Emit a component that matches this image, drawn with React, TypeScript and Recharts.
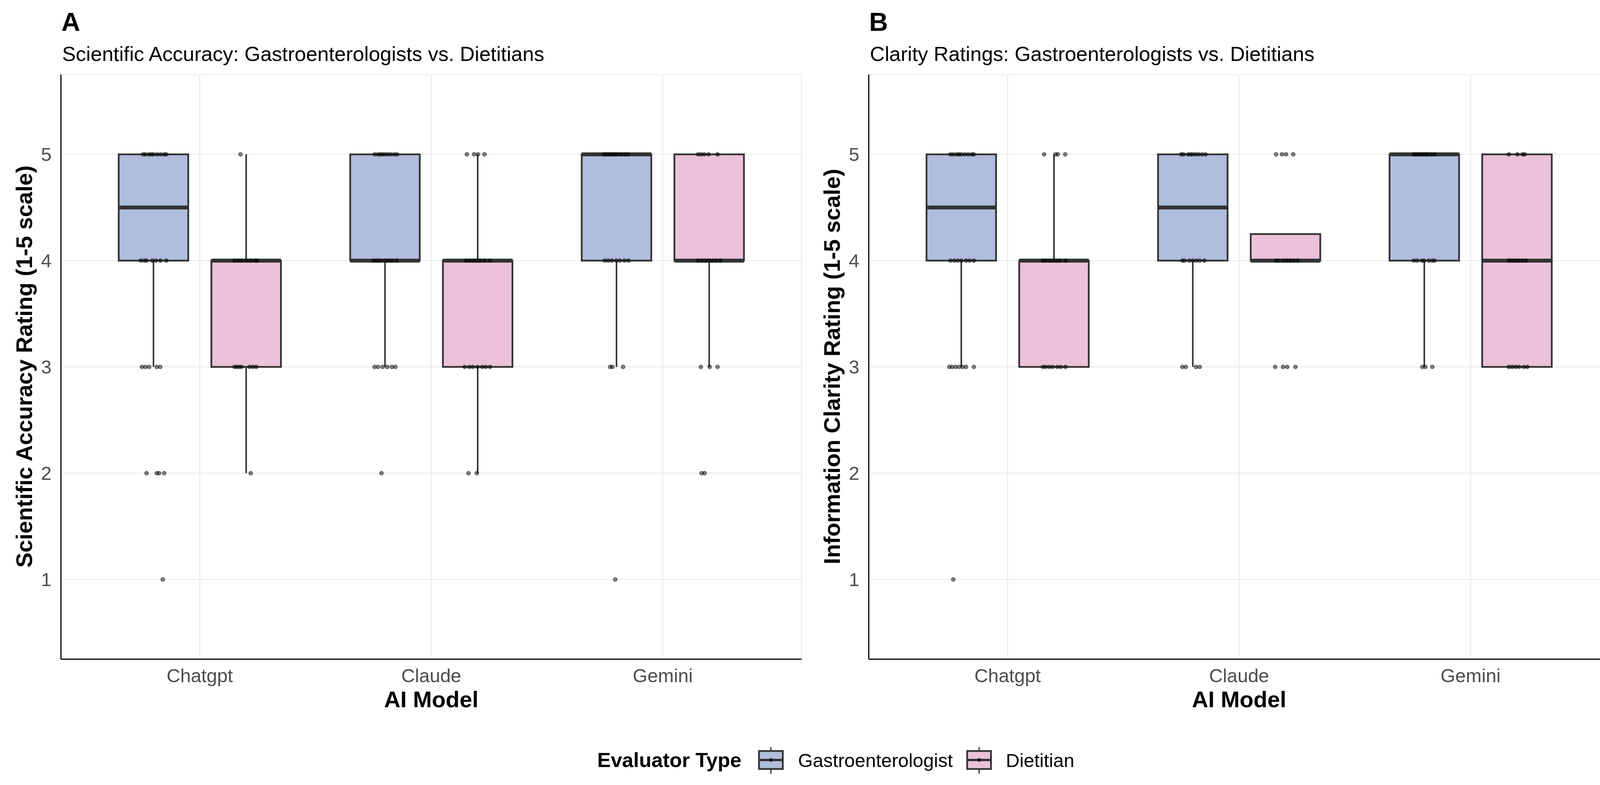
import React from "react";
import { ComposedChart, Bar, Scatter, XAxis, YAxis, CartesianGrid } from "recharts";

const models = ["Chatgpt", "Claude", "Gemini"];
const evaluators = ["Gastroenterologist", "Dietitian"];
const ratingTicks = [1, 2, 3, 4, 5];

// [lower whisker, Q1, median, Q3, upper whisker] for Chatgpt, Claude, Gemini
const accuracyGastroStats = [
  [3, 4, 4.5, 5, 5],
  [3, 4, 4, 5, 5],
  [3, 4, 5, 5, 5],
];
const accuracyDietStats = [
  [2, 3, 4, 4, 5],
  [2, 3, 4, 4, 5],
  [3, 4, 4, 5, 5],
];
const clarityGastroStats = [
  [3, 4, 4.5, 5, 5],
  [3, 4, 4.5, 5, 5],
  [3, 4, 5, 5, 5],
];
const clarityDietStats = [
  [3, 3, 4, 4, 5],
  [4, 4, 4, 4.25, 4.25],
  [3, 3, 4, 5, 5],
];

// individual ratings: rating -> jitter (share of a category) of each response
const accuracyGastroPoints = [
  { 5: [-0.045, -0.035, -0.02, -0.01, 0, 0.015, 0.03, 0.045, 0.055], 4: [-0.055, -0.04, -0.03, -0.005, 0.01, 0.03, 0.055], 3: [-0.05, -0.035, -0.019, 0.014, 0.029], 2: [-0.03, 0.014, 0.024, 0.046], 1: [0.04] },
  { 5: [-0.044, -0.03, -0.02, -0.01, 0, 0.012, 0.025, 0.04, 0.052], 4: [-0.049, -0.035, -0.02, 0, 0.015, 0.03, 0.05], 3: [-0.045, -0.03, -0.01, 0.01, 0.03, 0.045], 2: [-0.015] },
  { 5: [-0.055, -0.045, -0.035, -0.025, -0.015, -0.005, 0.005, 0.02, 0.035, 0.05], 4: [-0.05, -0.035, -0.02, 0, 0.015, 0.035, 0.052], 3: [-0.027, -0.017, 0.029], 1: [-0.005] },
];
const accuracyDietPoints = [
  { 5: [-0.024], 4: [-0.05, -0.035, -0.02, 0, 0.02, 0.04, 0.048], 3: [-0.05, -0.04, -0.03, -0.02, 0.015, 0.03, 0.044], 2: [0.02] },
  { 5: [-0.046, -0.015, 0.002, 0.03], 4: [-0.05, -0.035, -0.02, -0.005, 0.01, 0.03, 0.054], 3: [-0.055, -0.035, -0.02, 0, 0.02, 0.035, 0.054], 2: [-0.039, -0.003] },
  { 5: [-0.047, -0.034, -0.02, -0.002, 0.037], 4: [-0.047, -0.03, -0.015, 0, 0.015, 0.03, 0.049], 3: [-0.035, 0.003, 0.037], 2: [-0.032, -0.019] },
];
const clarityGastroPoints = [
  { 5: [-0.047, -0.035, -0.02, -0.01, 0, 0.015, 0.03, 0.045, 0.054], 4: [-0.047, -0.03, -0.015, 0, 0.02, 0.035, 0.054], 3: [-0.052, -0.04, -0.025, -0.01, 0.005, 0.02, 0.054], 1: [-0.035] },
  { 5: [-0.05, -0.04, -0.02, -0.01, 0, 0.012, 0.025, 0.04, 0.055], 4: [-0.045, -0.035, -0.015, 0, 0.015, 0.03, 0.05], 3: [-0.045, -0.03, 0.014, 0.03] },
  { 5: [-0.045, -0.035, -0.025, -0.015, -0.005, 0.005, 0.015, 0.03, 0.045], 4: [-0.045, -0.03, -0.01, 0, 0.02, 0.035, 0.045], 3: [-0.008, 0.005, 0.035] },
];
const clarityDietPoints = [
  { 5: [-0.042, 0.007, 0.017, 0.049], 4: [-0.047, -0.035, -0.02, -0.005, 0.01, 0.025, 0.05], 3: [-0.047, -0.035, -0.02, -0.005, 0.015, 0.03, 0.05] },
  { 5: [-0.04, -0.015, 0.003, 0.034], 4: [-0.04, -0.03, -0.01, 0.005, 0.02, 0.035, 0.052], 3: [-0.044, -0.01, 0.008, 0.044] },
  { 5: [-0.034, 0.003, 0.025, 0.034], 4: [-0.034, -0.02, -0.005, 0.01, 0.025, 0.04], 3: [-0.034, -0.02, -0.005, 0.01, 0.03, 0.045] },
];

const FONT = '"Liberation Sans", Arial, Helvetica, sans-serif';
const GASTRO_FILL = "#B0BDDB";
const DIET_FILL = "#EBC2D9";
const LINE = "#333333";
const DODGE = 0.2;

function buildRows(gStats: number[][], dStats: number[][]) {
  return models.map((model, i) => {
    const [gLo, gQ1, gMed, gQ3, gHi] = gStats[i];
    const [dLo, dQ1, dMed, dQ3, dHi] = dStats[i];
    return {
      model,
      gBase: gLo, gLow: gQ1 - gLo, gBox: gQ3 - gQ1, gHigh: gHi - gQ3, gQ1, gMed, gQ3,
      dBase: dLo, dLow: dQ1 - dLo, dBox: dQ3 - dQ1, dHigh: dHi - dQ3, dQ1, dMed, dQ3,
    };
  });
}

function buildPoints(pts: Record<number, number[]>[], dodge: number) {
  const out: { x: number; y: number }[] = [];
  pts.forEach((byRating, i) => {
    Object.entries(byRating).forEach(([rating, offsets]) => {
      offsets.forEach((off) => out.push({ x: i + 1 + dodge + off, y: Number(rating) }));
    });
  });
  return out;
}

const Empty = () => <g />;

const Whisker = (props: any) => {
  const { x, y, width, height } = props;
  if (!height) return <g />;
  const cx = x + width / 2;
  return <line x1={cx} x2={cx} y1={y} y2={y + height} stroke={LINE} strokeWidth={4} />;
};

const BoxShape = (props: any) => {
  const { x, y, width, height, payload, fill, pre } = props;
  const q1 = payload[pre + "Q1"];
  const q3 = payload[pre + "Q3"];
  const med = payload[pre + "Med"];
  const span = q3 - q1;
  const my = span > 0 ? y + (height * (q3 - med)) / span : y;
  return (
    <g>
      <rect x={x} y={y} width={width} height={height} fill={fill} stroke={LINE} strokeWidth={4.5} />
      <line x1={x} x2={x + width} y1={my} y2={my} stroke={LINE} strokeWidth={10} />
    </g>
  );
};

const Dot = (props: any) => (
  <circle cx={props.cx} cy={props.cy} r={5} fill="#000" fillOpacity={0.5} stroke="#000" strokeOpacity={0.5} strokeWidth={1.6} />
);

function Panel({ left, gStats, dStats, gPts, dPts }: any) {
  const rows = buildRows(gStats, dStats);
  const gastroDots = buildPoints(gPts, -DODGE);
  const dietDots = buildPoints(dPts, DODGE);
  return (
    <div style={{ position: "absolute", left, top: 0 }}>
      <ComposedChart
        width={2080}
        height={1800}
        data={rows}
        margin={{ top: 191, right: 28, bottom: 13, left: 0 }}
        barCategoryGap="15%"
        barGap="10%"
      >
        <CartesianGrid stroke="#EBEBEB" strokeWidth={2.5} />
        <XAxis
          dataKey="model"
          type="category"
          height={100}
          padding={{ left: 59, right: 59 }}
          tickLine={false}
          tickSize={0}
          tickMargin={25}
          interval={0}
          axisLine={{ stroke: "#000", strokeWidth: 3 }}
          tick={{ fontSize: 48.5, fill: "#4D4D4D", fontFamily: FONT }}
        />
        <XAxis xAxisId="num" dataKey="x" type="number" domain={[0.4, 3.6]} allowDataOverflow hide />
        <YAxis
          type="number"
          width={156}
          domain={[0.25, 5.75]}
          ticks={ratingTicks}
          allowDataOverflow
          tickLine={false}
          tickSize={0}
          tickMargin={24}
          axisLine={{ stroke: "#000", strokeWidth: 3 }}
          tick={{ fontSize: 48.5, fill: "#4D4D4D", fontFamily: FONT }}
        />
        <Bar dataKey="gBase" stackId="g" shape={Empty} isAnimationActive={false} />
        <Bar dataKey="gLow" stackId="g" shape={Whisker} isAnimationActive={false} />
        <Bar dataKey="gBox" stackId="g" fill={GASTRO_FILL} shape={(p: any) => <BoxShape {...p} pre="g" fill={GASTRO_FILL} />} isAnimationActive={false} />
        <Bar dataKey="gHigh" stackId="g" shape={Whisker} isAnimationActive={false} />
        <Bar dataKey="dBase" stackId="d" shape={Empty} isAnimationActive={false} />
        <Bar dataKey="dLow" stackId="d" shape={Whisker} isAnimationActive={false} />
        <Bar dataKey="dBox" stackId="d" fill={DIET_FILL} shape={(p: any) => <BoxShape {...p} pre="d" fill={DIET_FILL} />} isAnimationActive={false} />
        <Bar dataKey="dHigh" stackId="d" shape={Whisker} isAnimationActive={false} />
        <Scatter data={gastroDots} xAxisId="num" dataKey="y" shape={Dot} isAnimationActive={false} />
        <Scatter data={dietDots} xAxisId="num" dataKey="y" shape={Dot} isAnimationActive={false} />
      </ComposedChart>
    </div>
  );
}

const LegendKey = ({ x, fill }: { x: number; fill: string }) => (
  <g transform={`translate(${x},1912)`}>
    <line x1={32.5} x2={32.5} y1={0} y2={68} stroke={LINE} strokeWidth={3} />
    <rect x={2} y={10} width={61} height={46} fill={fill} stroke={LINE} strokeWidth={4.5} />
    <line x1={2} x2={63} y1={33} y2={33} stroke={LINE} strokeWidth={6} />
    <circle cx={32.5} cy={33} r={5} fill="#000" fillOpacity={0.6} />
  </g>
);

export default function App() {
  return (
    <div style={{ position: "absolute", left: 0, top: 0, width: 4154, height: 2009, background: "#fff", overflow: "hidden" }}>
      <Panel left={0} gStats={accuracyGastroStats} dStats={accuracyDietStats} gPts={accuracyGastroPoints} dPts={accuracyDietPoints} />
      <Panel left={2068} gStats={clarityGastroStats} dStats={clarityDietStats} gPts={clarityGastroPoints} dPts={clarityDietPoints} />
      <svg width={4154} height={2009} style={{ position: "absolute", left: 0, top: 0, pointerEvents: "none" }} fontFamily={FONT}>
        <text x={157} y={79} fontSize={67} fontWeight="bold" fill="#000">A</text>
        <text x={159} y={156} fontSize={52.5} fill="#000">Scientific Accuracy: Gastroenterologists vs. Dietitians</text>
        <text x={2225} y={79} fontSize={67} fontWeight="bold" fill="#000">B</text>
        <text x={2227} y={156} fontSize={52.5} fill="#000">Clarity Ratings: Gastroenterologists vs. Dietitians</text>
        <text transform="translate(82,938) rotate(-90)" textAnchor="middle" fontSize={58} fontWeight="bold" fill="#000">
          Scientific Accuracy Rating (1-5 scale)
        </text>
        <text transform="translate(2150,938) rotate(-90)" textAnchor="middle" fontSize={58} fontWeight="bold" fill="#000">
          Information Clarity Rating (1-5 scale)
        </text>
        <text x={1104} y={1810} textAnchor="middle" fontSize={58} fontWeight="bold" fill="#000">AI Model</text>
        <text x={3172} y={1810} textAnchor="middle" fontSize={58} fontWeight="bold" fill="#000">AI Model</text>
        <text x={1529} y={1963} fontSize={52} fontWeight="bold" fill="#000">Evaluator Type</text>
        <LegendKey x={1941} fill={GASTRO_FILL} />
        <text x={2043} y={1963} fontSize={48.5} fill="#000">{evaluators[0]}</text>
        <LegendKey x={2474} fill={DIET_FILL} />
        <text x={2575} y={1963} fontSize={48.5} fill="#000">{evaluators[1]}</text>
      </svg>
    </div>
  );
}
